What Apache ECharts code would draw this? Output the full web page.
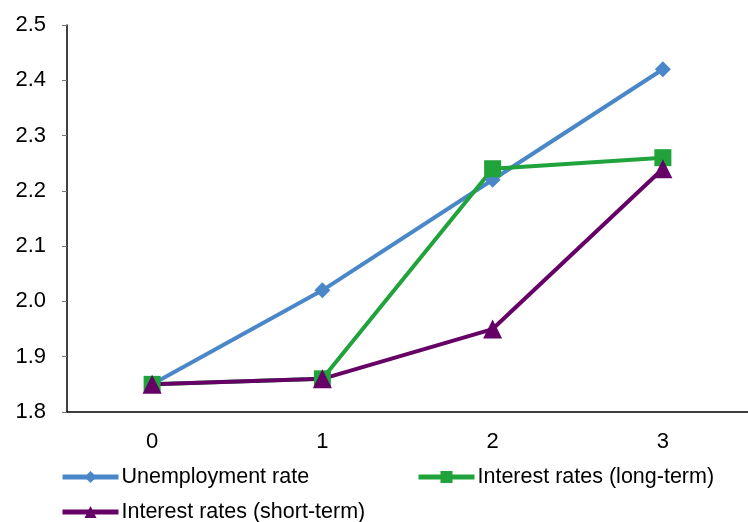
<!DOCTYPE html>
<html><head><meta charset="utf-8">
<script src="https://cdn.jsdelivr.net/npm/echarts@6/dist/echarts.min.js"></script>
<style>html,body{margin:0;padding:0;background:#fff}#c{width:748px;height:522px}</style>
</head><body><div id="c"></div>
<script>
const categories = ['0', '1', '2', '3'];
const unemployment = [1.85, 2.02, 2.22, 2.42];
const longTerm = [1.85, 1.86, 2.24, 2.26];
const shortTerm = [1.85, 1.86, 1.95, 2.24];
const names = ['Unemployment rate', 'Interest rates (long-term)', 'Interest rates (short-term)'];
const colors = ['#4A87C8', '#1FA33A', '#660066'];
const font = 'Liberation Sans, Arial, sans-serif';
const chart = echarts.init(document.getElementById('c'));
function leg(name, left, top) {
  return {
    data: [name], left: left, top: top, itemWidth: 56, itemHeight: 15, itemGap: 0,
    padding: 0,
    lineStyle: { width: 5 },
    textStyle: { fontFamily: font, fontSize: 21.5, color: '#000', padding: [0, 0, 0, -2] }
  };
}
chart.setOption({
  animation: false,
  color: colors,
  grid: { left: 67, right: 0, top: 25, bottom: 110, containLabel: false },
  legend: [leg(names[0], 60, 466), leg(names[1], 416, 466), leg(names[2], 60, 501)],
  xAxis: {
    type: 'category', data: categories, boundaryGap: true,
    axisLine: { lineStyle: { color: '#000', width: 1.5 } },
    axisTick: { inside: true, length: 6, lineStyle: { color: '#777' } },
    axisLabel: { fontFamily: font, fontSize: 22, color: '#000', margin: 19 },
    splitLine: { show: false }
  },
  yAxis: {
    type: 'value', min: 1.8, max: 2.5, interval: 0.1,
    axisLine: { show: true, lineStyle: { color: '#000', width: 1.5 } },
    axisTick: { show: true, length: 5, lineStyle: { color: '#777' } },
    axisLabel: { fontFamily: font, fontSize: 22, color: '#000', margin: 21, formatter: v => v.toFixed(1) },
    splitLine: { show: false }
  },
  series: [
    { name: names[0], type: 'line', data: unemployment, symbol: 'diamond', symbolSize: 16,
      lineStyle: { width: 4 }, itemStyle: { color: colors[0] } },
    { name: names[1], type: 'line', data: longTerm, symbol: 'rect', symbolSize: 17,
      lineStyle: { width: 4 }, itemStyle: { color: colors[1] } },
    { name: names[2], type: 'line', data: shortTerm, symbol: 'triangle', symbolSize: 19,
      lineStyle: { width: 4 }, itemStyle: { color: colors[2] } }
  ]
});
</script></body></html>
